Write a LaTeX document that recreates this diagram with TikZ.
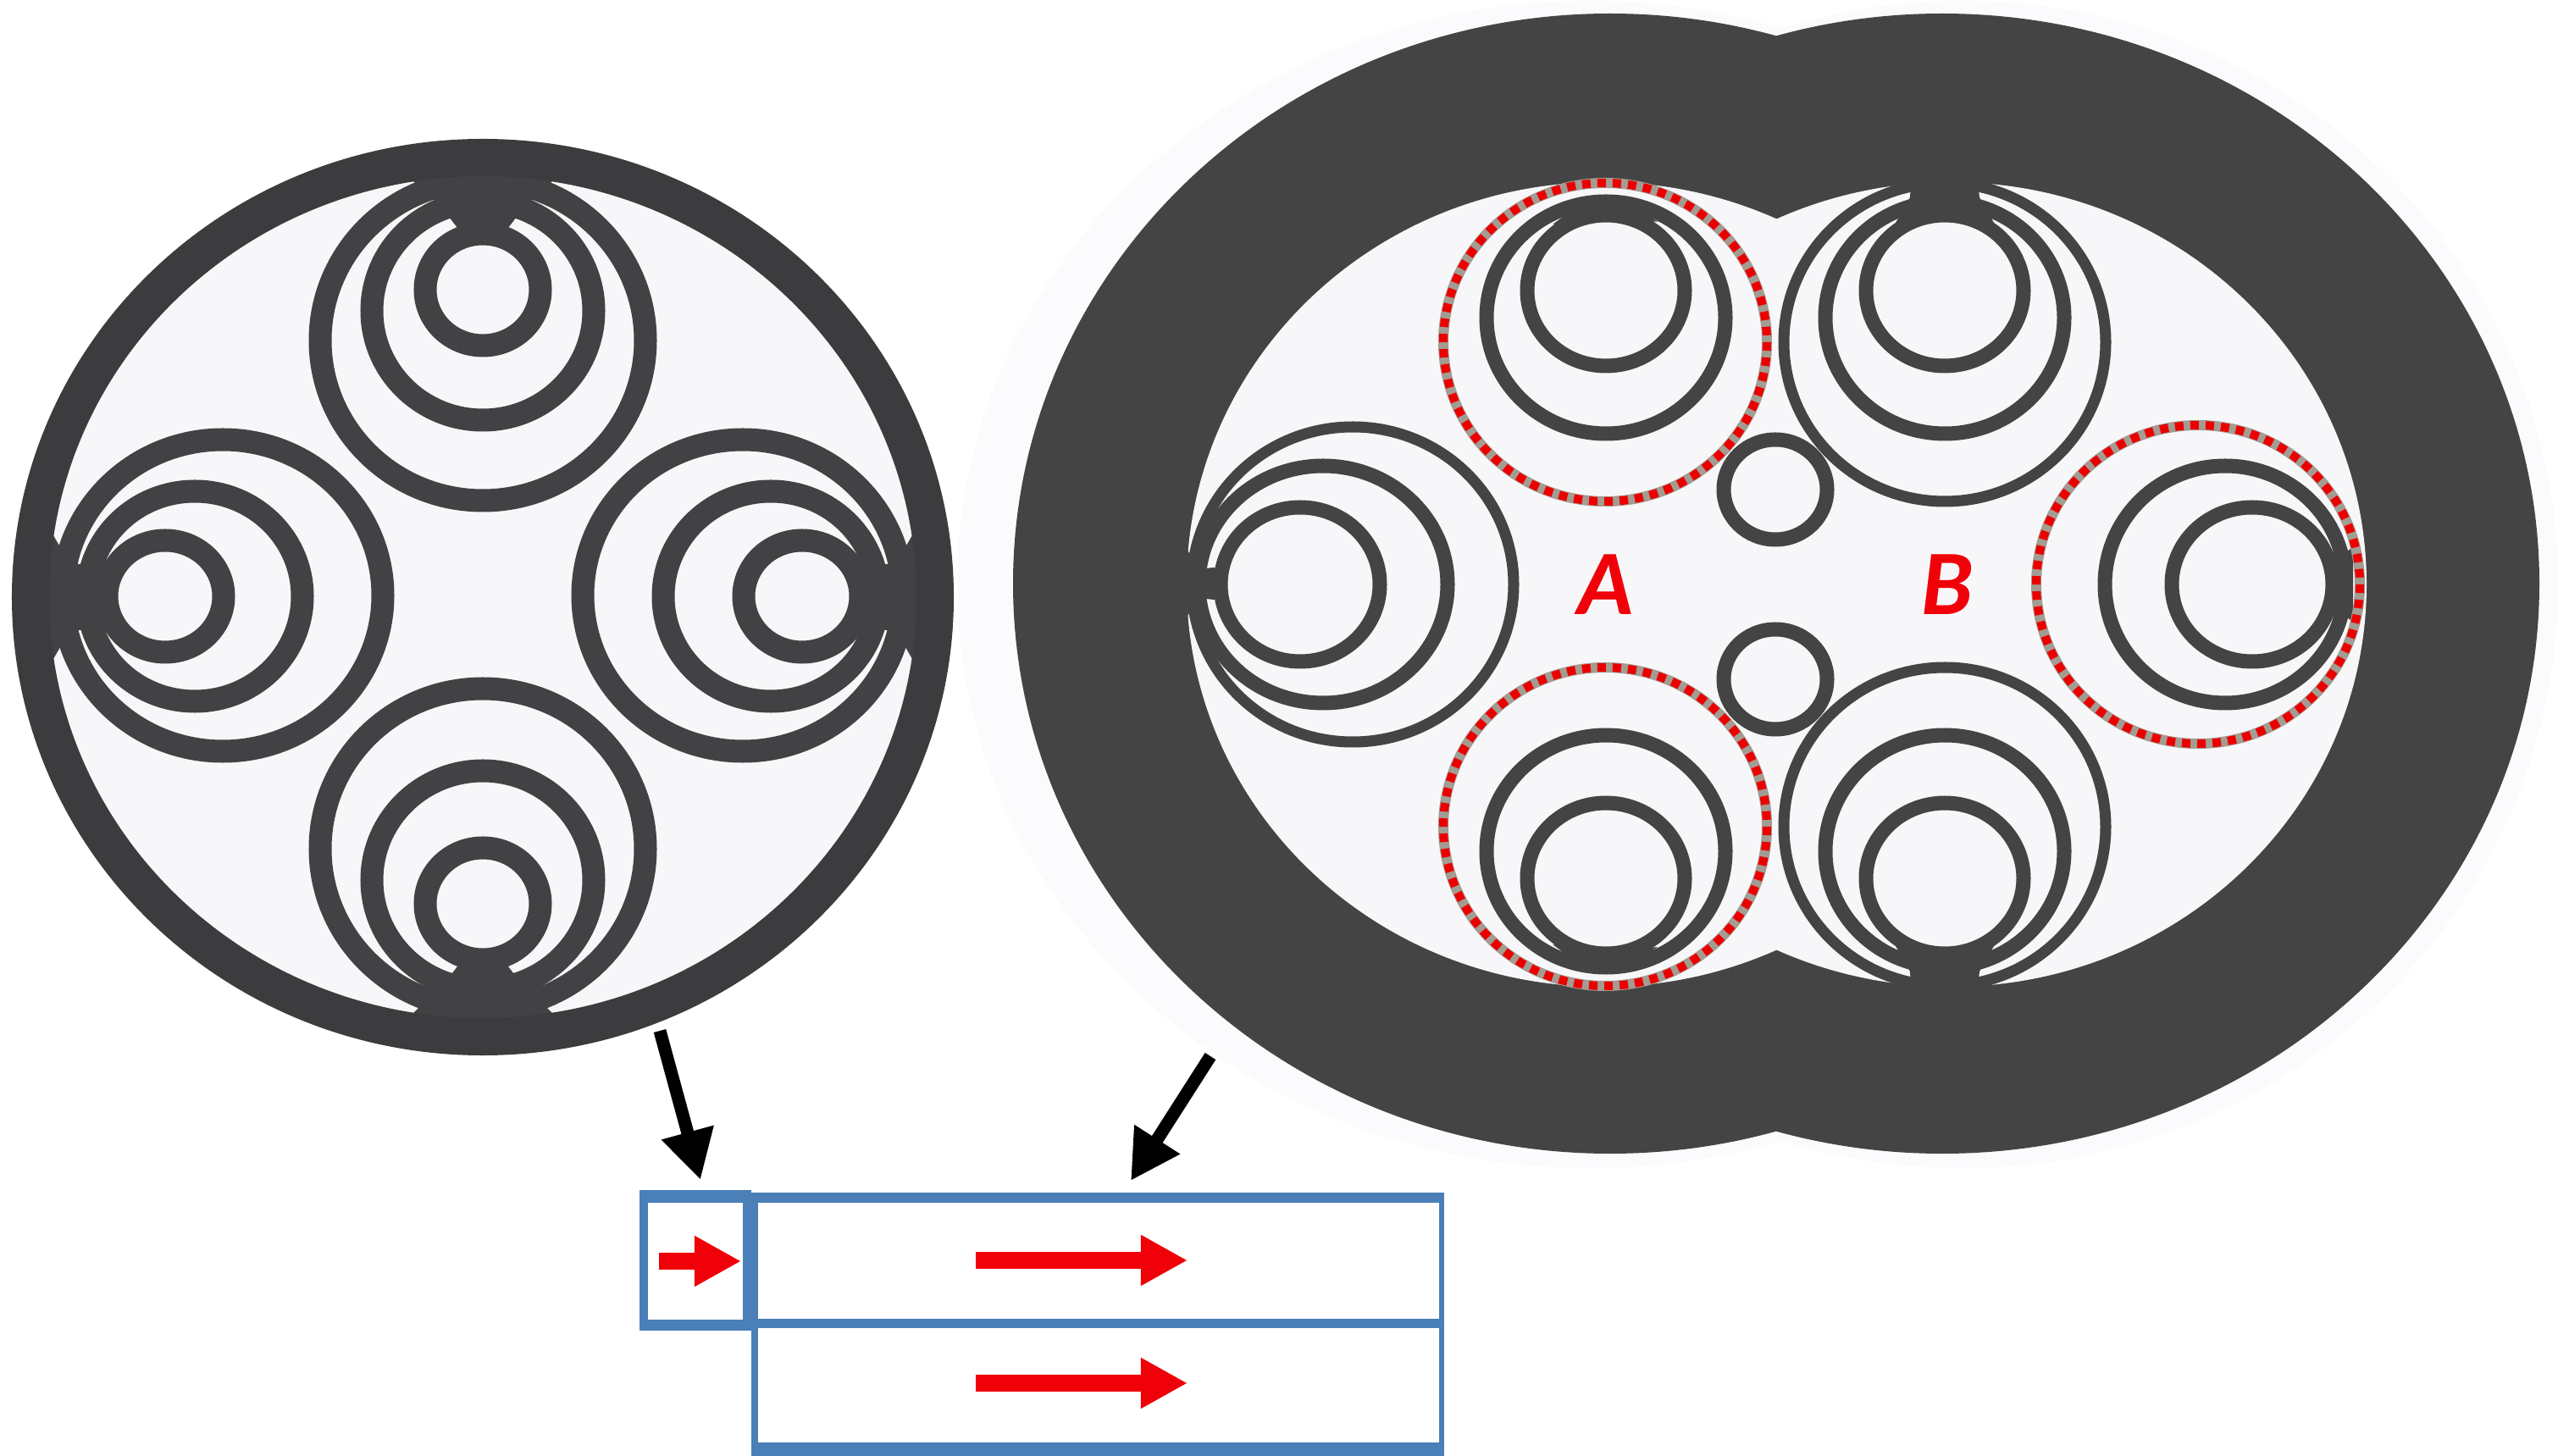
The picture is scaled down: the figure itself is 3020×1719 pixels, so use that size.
\documentclass[tikz,border=0pt]{standalone}
\usepackage{fontspec}
\setmainfont{Carlito}
\usetikzlibrary{arrows.meta}
\definecolor{ringL}{HTML}{3C3B3D}
\definecolor{coilL}{HTML}{424143}
\definecolor{paleF}{HTML}{F7F7FA}
\definecolor{haloF}{HTML}{FBFBFD}
\definecolor{darkR}{HTML}{444444}
\definecolor{boxB}{HTML}{4A7FB8}
\definecolor{redA}{HTML}{F00008}
\definecolor{dotG}{HTML}{A39C92}
\tikzset{
  coilA/.style={draw=coilL,line width=.27cm},
  wedgeA/.style={fill=coilL},
  coilW/.style={draw=darkR,line width=.17cm},
  coilT/.style={draw=darkR,line width=.13cm},
  wedgeB/.style={fill=darkR},
  dotU/.style={draw=dotG,line width=.12cm},
  dotR/.style={draw=red!92!black,line width=.10cm,dash pattern=on 2.85pt off 2.28pt},
  blackArrow/.style={draw=black,line width=.15cm,-{Triangle[length=.58cm,width=.60cm]}},
  redArrowS/.style={draw=redA,line width=.195cm,-{Triangle[length=.55cm,width=.56cm]}},
  labelT/.style={text=redA,font=\fontsize{31pt}{31pt}\selectfont\bfseries\itshape,inner sep=0pt}
}
\begin{document}
\begin{tikzpicture}[x=0.01cm,y=-0.01cm]
\useasboundingbox (0,0) rectangle (3020,1719);
\fill[white] (0,0) rectangle (3020,1719);

% ---- left cable ----
\begin{scope}[shift={(570,705)}]
  \fill[paleF] (0,0) ellipse [x radius=545, y radius=530];
  % top
  \draw[coilA] (0,-303) ellipse [x radius=192, y radius=189];
  \draw[coilA] (0,-338) ellipse [x radius=131, y radius=129];
  \draw[coilA] (0,-363) ellipse [x radius=68, y radius=66];
  \fill[wedgeA] (-100,-510) -- (-77,-486) -- (-50,-462) -- (-30,-436) -- (-20,-425) -- (20,-425) -- (30,-436) -- (50,-462) -- (77,-486) -- (100,-510) -- cycle;
  % bottom
  \draw[coilA] (0,297) ellipse [x radius=192, y radius=189];
  \draw[coilA] (0,334) ellipse [x radius=131, y radius=129];
  \draw[coilA] (0,362) ellipse [x radius=68, y radius=66];
  \fill[wedgeA] (-100,510) -- (-77,486) -- (-50,462) -- (-30,436) -- (-20,425) -- (20,425) -- (30,436) -- (50,462) -- (77,486) -- (100,510) -- cycle;
  % left
  \draw[coilA] (-307,-2) ellipse [x radius=189, y radius=184];
  \draw[coilA] (-340,-1) ellipse [x radius=127, y radius=124];
  \draw[coilA] (-375,-1) ellipse [x radius=69, y radius=66];
  \fill[wedgeA] (-530,-90) -- (-507,-73) -- (-488,-40) -- (-455,-37) -- (-440,-20) -- (-440,20) -- (-455,37) -- (-488,40) -- (-507,73) -- (-530,90) -- cycle;
  % right
  \draw[coilA] (307,-2) ellipse [x radius=189, y radius=184];
  \draw[coilA] (340,-1) ellipse [x radius=127, y radius=124];
  \draw[coilA] (377,-1) ellipse [x radius=69, y radius=66];
  \fill[wedgeA] (530,-90) -- (507,-73) -- (488,-40) -- (457,-37) -- (442,-20) -- (442,20) -- (457,37) -- (488,40) -- (507,73) -- (530,90) -- cycle;
  % ring on top
  \draw[draw=ringL,line width=.44cm] (0,0) ellipse [x radius=534, y radius=519];
\end{scope}

% ---- right cable ----
\fill[haloF] (1877,690) ellipse [x radius=747, y radius=689];
\fill[haloF] (2317,690) ellipse [x radius=703, y radius=689];
\fill[darkR] (1901,689) ellipse [x radius=705, y radius=673];
\fill[darkR] (2293,689) ellipse [x radius=705, y radius=673];
\fill[paleF] (1892,690) ellipse [x radius=491, y radius=475];
\fill[paleF] (2303,690) ellipse [x radius=491, y radius=475];

% left coil
\draw[coilT] (1597,690) ellipse [x radius=190, y radius=186];
\draw[coilW] (1562,690) ellipse [x radius=147, y radius=140];
\draw[coilW] (1535,690) ellipse [x radius=94, y radius=91];
\fill[wedgeB] (1395,640) -- (1402,650) -- (1416,672) -- (1433,670) -- (1445,675) -- (1445,703) -- (1433,708) -- (1416,706) -- (1402,727) -- (1395,737) -- cycle;
% top left (A)
\draw[coilW] (1896,375) ellipse [x radius=141, y radius=137];
\draw[coilW] (1896,343) ellipse [x radius=93, y radius=89];
\fill[wedgeB] (1833,265) -- (1860,245) -- (1896,232) -- (1932,245) -- (1957,262) -- (1920,258) -- (1896,256) -- (1872,258) -- cycle;
% bottom left (A)
\draw[coilW] (1896,1005) ellipse [x radius=141, y radius=137];
\draw[coilW] (1896,1037) ellipse [x radius=93, y radius=89];
\fill[wedgeB] (1833,1115) -- (1860,1135) -- (1896,1148) -- (1932,1135) -- (1957,1118) -- (1920,1122) -- (1896,1124) -- (1872,1122) -- cycle;
% top right
\draw[coilT] (2296,404) ellipse [x radius=190, y radius=188];
\draw[coilW] (2296,375) ellipse [x radius=141, y radius=137];
\draw[coilW] (2296,343) ellipse [x radius=93, y radius=89];
\fill[wedgeB] (2250,205) -- (2256,215) -- (2255,233) -- (2238,263) -- (2260,268) -- (2278,262) -- (2296,258) -- (2314,262) -- (2332,268) -- (2354,263) -- (2337,233) -- (2335,215) -- (2342,205) -- cycle;
% bottom right
\draw[coilT] (2296,976) ellipse [x radius=190, y radius=188];
\draw[coilW] (2296,1005) ellipse [x radius=141, y radius=137];
\draw[coilW] (2296,1037) ellipse [x radius=93, y radius=89];
\fill[wedgeB] (2250,1175) -- (2256,1165) -- (2255,1147) -- (2238,1117) -- (2260,1112) -- (2278,1118) -- (2296,1122) -- (2314,1118) -- (2332,1112) -- (2354,1117) -- (2337,1147) -- (2335,1165) -- (2342,1175) -- cycle;
% right coil (B)
\draw[coilW] (2627,690) ellipse [x radius=142, y radius=140];
\draw[coilW] (2659,690) ellipse [x radius=95, y radius=91];
\fill[wedgeB] (2752,672) -- (2757,664) -- (2778,645) -- (2778,735) -- (2757,716) -- (2752,708) -- cycle;
% small circles
\draw[coilW] (2096,578) ellipse [x radius=61, y radius=59];
\draw[coilW] (2096,802) ellipse [x radius=61, y radius=59];
% dotted ellipses
\foreach \cx/\cy in {1895/404,1895/976,2595/690}{
  \draw[dotU] (\cx,\cy) ellipse [x radius=191, y radius=188];
  \draw[dotR] (\cx,\cy) ellipse [x radius=191, y radius=188];
}
\node[labelT] (labA) at (1896,690) {A};
\node[labelT] (labB) at (2299,690) {B};

% ---- boxes ----
\fill[boxB] (887,1408) rectangle (1705,1719);
\fill[white] (895,1420) rectangle (1699,1557);
\fill[white] (895,1568) rectangle (1699,1703);
\fill[boxB] (755,1405) rectangle (887,1571);
\fill[white] (765,1420) rectangle (877,1558);

% ---- arrows ----
\coordinate (leftTail) at (779,1217);
\coordinate (leftTip) at (827,1393);
\coordinate (rightTail) at (1429,1247);
\coordinate (rightTip) at (1335,1394);
\draw[blackArrow] (leftTail) -- (leftTip);
\draw[blackArrow] (rightTail) -- (rightTip);
\coordinate (r1a) at (778,1489);
\coordinate (r1b) at (875,1489);
\coordinate (r2a) at (1152,1488);
\coordinate (r2b) at (1402,1488);
\coordinate (r3a) at (1152,1633);
\coordinate (r3b) at (1402,1633);
\draw[redArrowS] (r1a) -- (r1b);
\draw[redArrowS] (r2a) -- (r2b);
\draw[redArrowS] (r3a) -- (r3b);
\end{tikzpicture}
\end{document}
